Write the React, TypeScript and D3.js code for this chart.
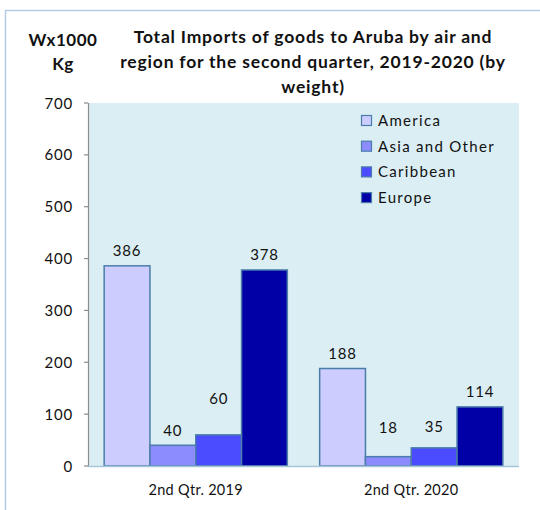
import React from "react";
import * as d3 from "d3";

const categories = ["2nd Qtr. 2019", "2nd Qtr. 2020"];
const seriesNames = ["America", "Asia and Other", "Caribbean", "Europe"];
const america = [386, 188];
const asiaOther = [40, 18];
const caribbean = [60, 35];
const europe = [378, 114];
const yTicks = [0, 100, 200, 300, 400, 500, 600, 700];
const titleLines = [
  "Total Imports of goods to Aruba by air and",
  "region for the second quarter, 2019-2020 (by",
  "weight)",
];
const yTitleLines = ["Wx1000", "Kg"];

const seriesValues = [america, asiaOther, caribbean, europe];
const colors = ["#CCCCFF", "#8C8CFF", "#4B4BFF", "#0000A6"];
// extra lift (px) for labels that the original chart moved to avoid overlap
const labelExtraLift: Record<string, number> = { "2|0": 21, "1|1": 14, "2|1": 6 };

const W = 540;
const H = 510;
const FONT = "Lato, 'Noto Sans', sans-serif";

export default function App() {
  const left = 88, right = 519, top = 103, bottom = 466;
  const y = d3.scaleLinear().domain([0, 700]).range([bottom, top]);
  const x0 = d3.scaleBand<string>().domain(categories).range([left, right]).paddingInner(0.15).paddingOuter(0.075);
  const x1 = d3.scaleBand<number>().domain(d3.range(seriesNames.length)).range([0, x0.bandwidth()]);

  return (
    <svg width={W} height={H} style={{ position: "absolute", left: 0, top: 0, background: "#fff" }} fontFamily={FONT}>
      <rect x={5.5} y={10.5} width={600} height={600} fill="#fff" stroke="#B4CBE3" strokeWidth={1.5} />
      <rect x={left} y={top} width={right - left} height={bottom - top} fill="#DBEEF3" />
      {/* title */}
      {titleLines.map((t, i) => (
        <text key={i} x={313} y={43 + i * 25} textAnchor="middle" fontWeight="bold" fontSize={17.5} letterSpacing={0.8} fill="#111">
          {t}
        </text>
      ))}
      {yTitleLines.map((t, i) => (
        <text key={i} x={63} y={46 + i * 24} textAnchor="middle" fontWeight="bold" fontSize={17} letterSpacing={0.5} fill="#111">
          {t}
        </text>
      ))}
      {/* y axis */}
      <line x1={left + 0.5} x2={left + 0.5} y1={top} y2={bottom} stroke="#8C8C8C" strokeWidth={1.2} />
      {yTicks.map((v) => (
        <g key={v}>
          <line x1={left - 4} x2={left} y1={y(v)} y2={y(v)} stroke="#8C8C8C" strokeWidth={1.2} />
          <text x={73} y={y(v) + 5.5} textAnchor="end" fontSize={15} letterSpacing={0.8} fill="#111">
            {v}
          </text>
        </g>
      ))}
      {/* bars */}
      {categories.map((c, ci) => (
        <g key={c}>
          {seriesValues.map((vals, si) => {
            const bx = (x0(c) as number) + (x1(si) as number);
            const bw = x1.bandwidth();
            const v = vals[ci];
            const lift = 15 + (labelExtraLift[`${si}|${ci}`] || 0);
            return (
              <g key={si}>
                <rect x={bx} y={y(v)} width={bw} height={bottom - y(v)} fill={colors[si]} stroke="#4A7DAA" strokeWidth={1.5} />
                <text x={bx + bw / 2} y={y(v) - lift + 5.5} textAnchor="middle" fontSize={15} letterSpacing={0.8} fill="#111">
                  {v}
                </text>
              </g>
            );
          })}
          <text x={(x0(c) as number) + x0.bandwidth() / 2} y={495} textAnchor="middle" fontSize={14.5} letterSpacing={0.3} fill="#111">
            {c}
          </text>
        </g>
      ))}
      <line x1={left} x2={right} y1={bottom + 0.5} y2={bottom + 0.5} stroke="#A7C6DA" strokeWidth={1.5} />
      {/* legend */}
      {seriesNames.map((s, i) => (
        <g key={s}>
          <rect x={361.5} y={115.5 + i * 25.7} width={10} height={10} fill={colors[i]} stroke="#4A7DAA" strokeWidth={1.2} />
          <text x={378} y={126 + i * 25.7} fontSize={15} letterSpacing={1.3} fill="#111">
            {s}
          </text>
        </g>
      ))}
    </svg>
  );
}
